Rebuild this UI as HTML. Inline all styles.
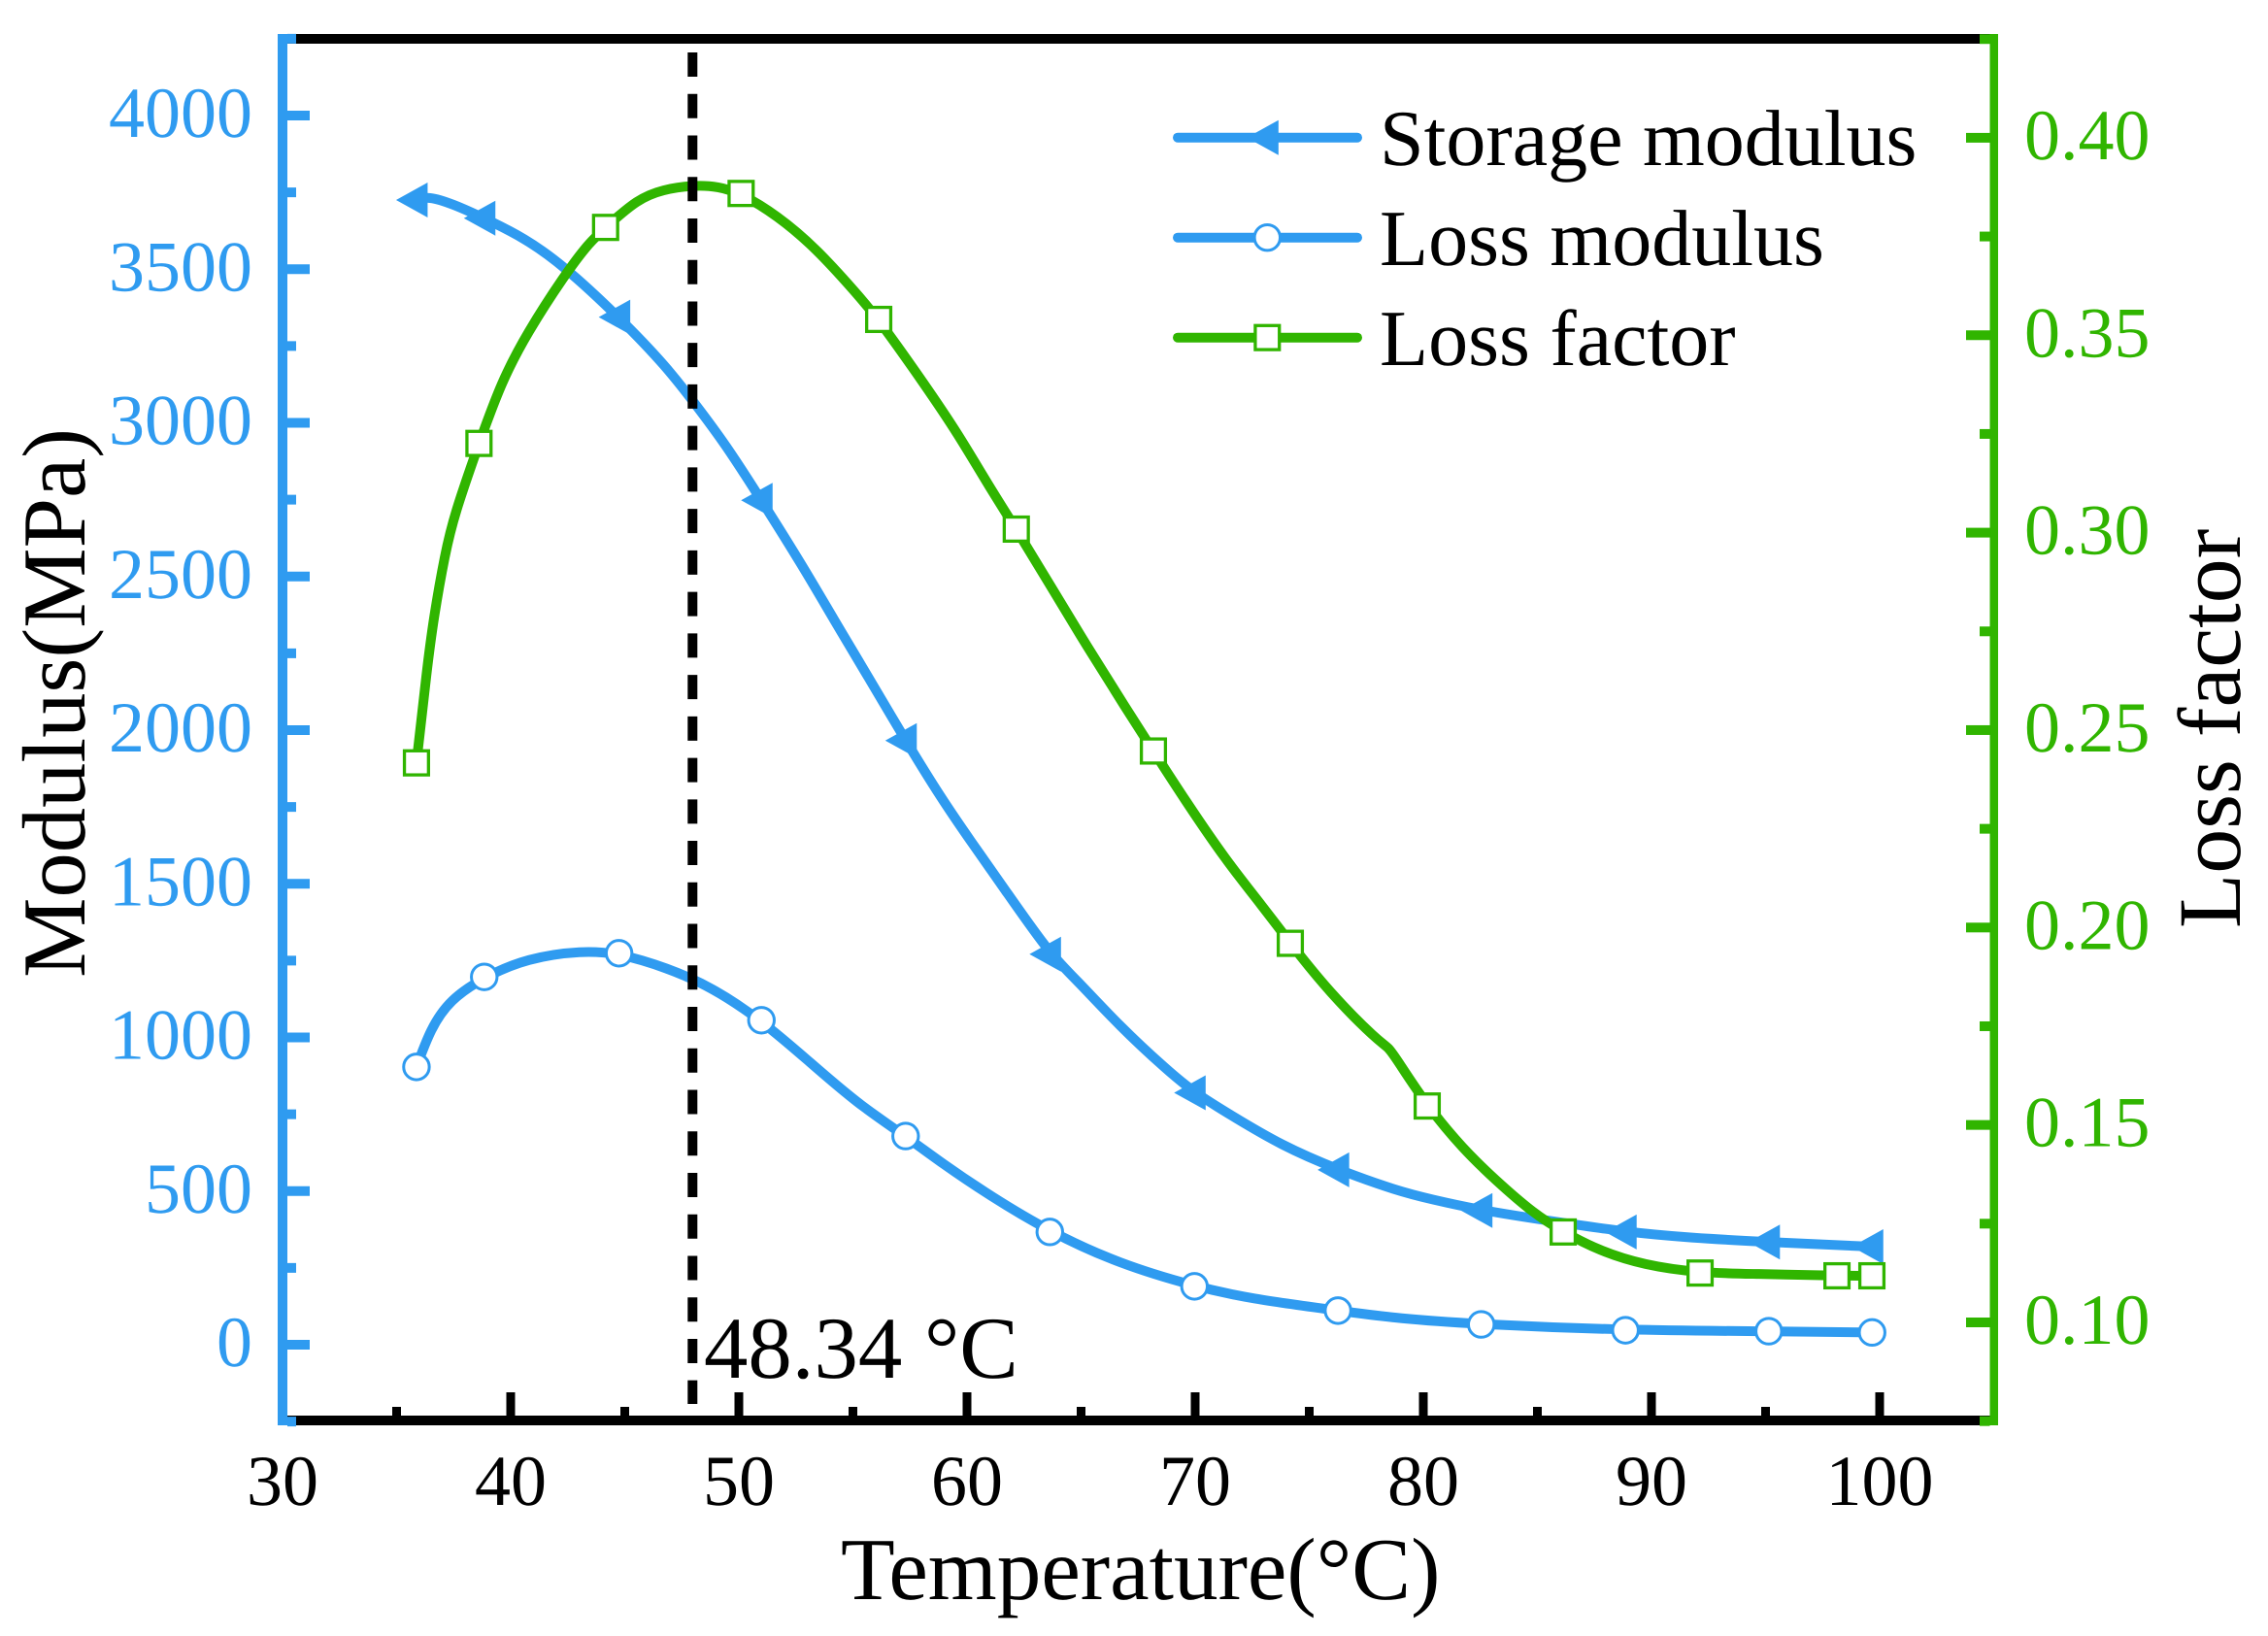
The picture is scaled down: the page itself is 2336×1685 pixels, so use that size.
<!DOCTYPE html>
<html lang="en">
<head>
<meta charset="utf-8">
<title>Modulus and loss factor vs temperature</title>
<style>
html,body{margin:0;padding:0;background:#fff;}
svg{display:block;}
text{font-family:"Liberation Serif",serif;text-rendering:geometricPrecision;}
</style>
</head>
<body>
<svg id="chart" xmlns="http://www.w3.org/2000/svg" width="2336" height="1685" viewBox="0 0 2336 1685">
  <rect x="0" y="0" width="2336" height="1685" fill="#ffffff"/>
  <g id="series"></g>
  <g id="axes">
    <rect x="286" y="35" width="1772" height="10" fill="#000"/>
    <rect x="286" y="1458" width="1772" height="10" fill="#000"/>
    <rect x="286" y="35" width="10" height="1433" fill="#2f9bf0"/>
    <rect x="2049.5" y="35" width="8.5" height="1433" fill="#30b500"/>
  </g>
  <text transform="translate(87,441) rotate(-90)" text-anchor="end" font-size="92.6" fill="#000">Modulus(MPa)</text>
  <text transform="translate(2307,956) rotate(-90)" font-size="92" fill="#000">Loss factor</text>
  <text x="866" y="1647" font-size="91.2" fill="#000">Temperature(°C)</text>
  <text x="725" y="1419" font-size="90.8" fill="#000">48.34 °C</text>
  <g id="legend">
    <text x="1421" y="170" font-size="82" fill="#000">Storage modulus</text>
    <text x="1421" y="273" font-size="82" fill="#000">Loss modulus</text>
    <text x="1421" y="376" font-size="82" fill="#000">Loss factor</text>
  </g>
</svg>
<script>
// Data: temperature (°C), modulus (MPa), loss factor.
const storageTemp = [35.87,36.37,37.48,38.84,40.6,42.3,44.75,46.84,48.11,49.39,50.99,52.8,54.21,55.49,57.31,58.89,60.17,61.57,63.63,64.71,66.68,68.81,69.97,71.52,73.79,76.26,78.89,80.3,82.54,85.7,88.86,91.66,95.14,99.67];
const storageModulus = [3725,3738,3712,3666,3602,3513,3344,3182,3059,2933,2748,2534,2354,2196,1966,1776,1638,1491,1271,1195,1037,891,820,749,648,569,500,474,437,401,367,348,334,319];
const storageMarkers = [0,3,6,10,14,18,22,25,28,30,32,33];

const lossTemp = [35.87,36.48,37.32,38.84,40.72,43.15,44.75,46.84,48.81,50.99,53.06,55.19,57.31,58.89,61.02,63.63,66.68,69.97,72.37,76.26,78.89,82.54,88.86,95.14,99.67];
const lossModulus = [904,1027,1122,1197,1258,1283,1274,1227,1164,1056,923,785,679,591,484,367,263,190,150,111,85,66,47,44,40];
const lossMarkers = [0,3,6,9,12,15,17,19,21,22,23,24];

const factorTemp = [35.87,36.34,36.62,37.12,37.53,38.61,39.6,40.72,42.37,43.43,44.16,45.56,46.68,47.96,49.11,50.1,51.66,53.36,55.19,56.13,58.17,59.6,61.02,62.16,63.57,65.28,66.98,68.17,69.53,71.36,72.94,74.17,75.91,78.04,78.47,78.89,80.17,81.73,83.15,84.85,86.13,87.69,89.66,92.13,94.5,98.13,99.66];
const lossFactor = [0.2417,0.2660,0.2783,0.2947,0.3046,0.3226,0.3383,0.3506,0.3653,0.3734,0.3773,0.3845,0.3869,0.3880,0.3877,0.3859,0.3804,0.3722,0.3604,0.3540,0.3373,0.3251,0.3112,0.3009,0.2874,0.2710,0.2554,0.2447,0.2325,0.2169,0.2055,0.1960,0.1834,0.1711,0.1698,0.1661,0.1548,0.1440,0.1361,0.1275,0.1229,0.1182,0.1145,0.1125,0.1123,0.1118,0.1118];
const factorMarkers = [0,5,10,15,19,23,27,31,36,40,43,45,46];

const xMajorTicks = [30,40,50,60,70,80,90,100];
const xMinorTicks = [35,45,55,65,75,85,95];
const xTickLabels = ["30","40","50","60","70","80","90","100"];
const leftMajorTicks = [0,500,1000,1500,2000,2500,3000,3500,4000];
const leftMinorTicks = [-250,250,750,1250,1750,2250,2750,3250,3750,4250];
const leftTickLabels = ["0","500","1000","1500","2000","2500","3000","3500","4000"];
const rightMajorTicks = [0.10,0.15,0.20,0.25,0.30,0.35,0.40];
const rightMinorTicks = [0.075,0.125,0.175,0.225,0.275,0.325,0.375,0.425];
const rightTickLabels = ["0.10","0.15","0.20","0.25","0.30","0.35","0.40"];
const transitionTemp = [47.97];

const BLUE = "#2f9bf0";
const GREEN = "#30b500";
const NS = "http://www.w3.org/2000/svg";

function xScale(t){ return 291 + (t - 30) * 23.5; }
function yLeft(v){ return 1385 - v * 0.3165; }
function yRight(v){ return 1362 - (v - 0.10) * 4067; }

function make(tag, attrs, parent){
  const el = document.createElementNS(NS, tag);
  for (const k in attrs) el.setAttribute(k, attrs[k]);
  parent.appendChild(el);
  return el;
}

// Cubic B-spline through the read points, clamped to both end points.
function smoothPath(pts){
  const n = pts.length;
  function ctrl(i){
    if (i < 0) return [2 * pts[0][0] - pts[1][0], 2 * pts[0][1] - pts[1][1]];
    if (i >= n) return [2 * pts[n - 1][0] - pts[n - 2][0], 2 * pts[n - 1][1] - pts[n - 2][1]];
    return pts[i];
  }
  function knot(i){
    const a = ctrl(i - 1);
    const b = ctrl(i);
    const c = ctrl(i + 1);
    return [(a[0] + 4 * b[0] + c[0]) / 6, (a[1] + 4 * b[1] + c[1]) / 6];
  }
  const first = knot(0);
  let d = "M" + first[0].toFixed(2) + " " + first[1].toFixed(2);
  for (let i = 0; i < n - 1; i++){
    const p = pts[i];
    const q = pts[i + 1];
    const e = knot(i + 1);
    d += "C" + ((2 * p[0] + q[0]) / 3).toFixed(2) + " " + ((2 * p[1] + q[1]) / 3).toFixed(2) + " " +
         ((p[0] + 2 * q[0]) / 3).toFixed(2) + " " + ((p[1] + 2 * q[1]) / 3).toFixed(2) + " " +
         e[0].toFixed(2) + " " + e[1].toFixed(2);
  }
  return d;
}

function trianglePoints(cx, cy){
  return (cx - 21) + "," + cy + " " + (cx + 11.5) + "," + (cy - 18) + " " + (cx + 11.5) + "," + (cy + 18);
}
function drawTriangle(cx, cy, parent){
  return make("polygon", {points: trianglePoints(cx, cy), fill: BLUE}, parent);
}
function drawCircle(cx, cy, parent){
  return make("circle", {cx: cx, cy: cy, r: 13.2, fill: "#fff", stroke: BLUE, "stroke-width": 3}, parent);
}
function drawSquare(cx, cy, parent){
  return make("rect", {x: cx - 12.4, y: cy - 12.4, width: 24.8, height: 24.8, fill: "#fff", stroke: GREEN, "stroke-width": 3.3}, parent);
}

const seriesGroup = document.getElementById("series");
const axesGroup = document.getElementById("axes");
const legendGroup = document.getElementById("legend");
const chart = document.getElementById("chart");

// Storage modulus
const storagePts = storageTemp.map((t, i) => [xScale(t), yLeft(storageModulus[i])]);
const storageLine = make("path", {d: smoothPath(storagePts), fill: "none", stroke: BLUE, "stroke-width": 10}, seriesGroup);


storageMarkers.forEach(i => {
  const m = drawTriangle(xScale(storageTemp[i]), yLeft(storageModulus[i]), seriesGroup);
  
  
});

// Loss modulus
const lossPts = lossTemp.map((t, i) => [xScale(t), yLeft(lossModulus[i])]);
const lossLine = make("path", {d: smoothPath(lossPts), fill: "none", stroke: BLUE, "stroke-width": 10}, seriesGroup);


lossMarkers.forEach(i => {
  const m = drawCircle(xScale(lossTemp[i]), yLeft(lossModulus[i]), seriesGroup);
  
  
});

// Loss factor
const factorPts = factorTemp.map((t, i) => [xScale(t), yRight(lossFactor[i])]);
const factorLine = make("path", {d: smoothPath(factorPts), fill: "none", stroke: GREEN, "stroke-width": 10}, seriesGroup);


factorMarkers.forEach(i => {
  const m = drawSquare(xScale(factorTemp[i]), yRight(lossFactor[i]), seriesGroup);
  
  
});

// Transition marker
const transitionLine = make("line", {x1: xScale(transitionTemp[0]), x2: xScale(transitionTemp[0]), y1: 54, y2: 1446, stroke: "#000", "stroke-width": 10, "stroke-dasharray": "25 17.74"}, seriesGroup);



// X axis ticks
xMajorTicks.forEach((t, i) => {
  if (t !== 30) {
    const tick = make("rect", {x: xScale(t) - 4.5, y: 1434, width: 9, height: 24, fill: "#000"}, axesGroup);
    
    
  }
  const label = make("text", {x: xScale(t), y: 1550, "text-anchor": "middle", "font-size": 74, fill: "#000"}, chart);
  label.textContent = xTickLabels[i];
  
  
});
xMinorTicks.forEach(t => {
  const tick = make("rect", {x: xScale(t) - 4.5, y: 1449, width: 9, height: 9, fill: "#000"}, axesGroup);
  
  
});

// Left axis ticks
leftMajorTicks.forEach((v, i) => {
  const tick = make("rect", {x: 296, y: yLeft(v) - 5, width: 23, height: 10, fill: BLUE}, axesGroup);
  
  
  const label = make("text", {x: 260, y: yLeft(v) + 22, "text-anchor": "end", "font-size": 74, fill: BLUE}, chart);
  label.textContent = leftTickLabels[i];
  
  
});
leftMinorTicks.forEach(v => {
  const tick = make("rect", {x: 296, y: yLeft(v) - 5, width: 9, height: 10, fill: BLUE}, axesGroup);
  
  
});

// Right axis ticks
rightMajorTicks.forEach((v, i) => {
  const tick = make("rect", {x: 2025, y: yRight(v) - 5, width: 24.5, height: 10, fill: GREEN}, axesGroup);
  
  
  const label = make("text", {x: 2085, y: yRight(v) + 22, "font-size": 74, fill: GREEN}, chart);
  label.textContent = rightTickLabels[i];
  
  
});
rightMinorTicks.forEach(v => {
  const tick = make("rect", {x: 2039, y: yRight(v) - 5, width: 10.5, height: 10, fill: GREEN}, axesGroup);
  
  
});

// Legend swatches
const legendStorageLine = make("line", {x1: 1213, x2: 1398, y1: 141.7, y2: 141.7, stroke: BLUE, "stroke-width": 10, "stroke-linecap": "round"}, legendGroup);


const legendStorageMark = drawTriangle(1305.3, 141.7, legendGroup);



const legendLossLine = make("line", {x1: 1213, x2: 1398, y1: 244.7, y2: 244.7, stroke: BLUE, "stroke-width": 10, "stroke-linecap": "round"}, legendGroup);


const legendLossMark = drawCircle(1305.3, 244.7, legendGroup);



const legendFactorLine = make("line", {x1: 1213, x2: 1398, y1: 347.7, y2: 347.7, stroke: GREEN, "stroke-width": 10, "stroke-linecap": "round"}, legendGroup);


const legendFactorMark = drawSquare(1305.3, 347.7, legendGroup);


</script>
</body>
</html>
